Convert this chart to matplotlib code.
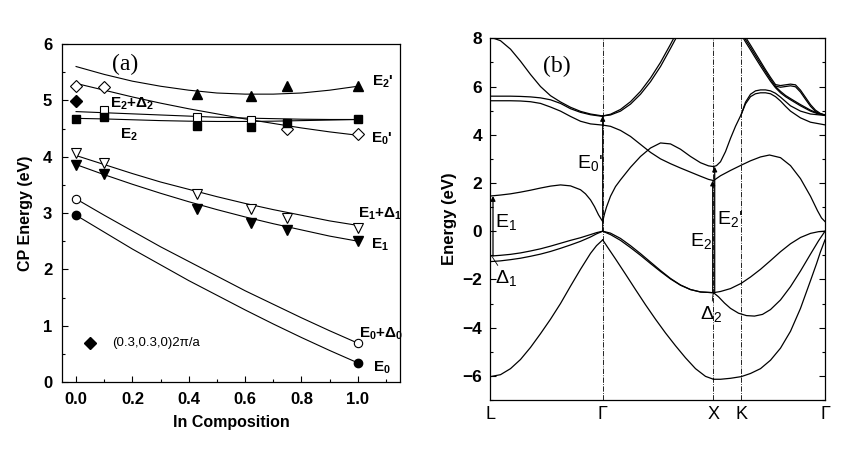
import numpy as np
import matplotlib
matplotlib.use('Agg')
import matplotlib.pyplot as plt
from matplotlib.ticker import MultipleLocator

plt.rcParams['font.family'] = ['Liberation Sans', 'DejaVu Sans']
plt.rcParams['mathtext.fontset'] = 'custom'
plt.rcParams['mathtext.rm'] = 'Liberation Sans'
plt.rcParams['mathtext.it'] = 'Liberation Sans:italic'
plt.rcParams['mathtext.bf'] = 'Liberation Sans:bold'

# ---------------- panel (a): critical point energies vs In composition
comp = [0.0, 0.1, 0.43, 0.62, 0.75, 1.0]
e2p_x = [0.43, 0.62, 0.75, 1.0]
e2p = [5.11, 5.07, 5.25, 5.25]
e0p_x = [0.0, 0.1, 0.75, 1.0]
e0p = [5.25, 5.23, 4.50, 4.41]
e2d_x = [0.1, 0.43, 0.62]
e2d = [4.83, 4.70, 4.65]
e2 = [4.67, 4.70, 4.54, 4.52, 4.59, 4.66]
e1d = [4.06, 3.88, 3.33, 3.07, 2.92, 2.74]
e1 = [3.86, 3.69, 3.07, 2.83, 2.70, 2.50]
e0_x = [0.0, 1.0]
e0d = [3.25, 0.69]
e0 = [2.96, 0.34]
pt_x = [0.0, 0.05]
pt_e = [4.98, 0.69]

# fitted curves read at steps of 0.1
fit_x = [0.0, 0.1, 0.2, 0.3, 0.4, 0.5, 0.6, 0.7, 0.8, 0.9, 1.0]
fit_e2p = [5.60, 5.46, 5.34, 5.25, 5.18, 5.13, 5.11, 5.11, 5.13, 5.18, 5.25]
fit_e0p = [5.30, 5.18, 5.06, 4.95, 4.85, 4.76, 4.67, 4.59, 4.51, 4.44, 4.38]
fit_e2d = [4.80, 4.78, 4.76, 4.74, 4.72, 4.70, 4.685, 4.675, 4.665, 4.66, 4.66]
fit_e2 = [4.68, 4.67, 4.655, 4.64, 4.63, 4.625, 4.625, 4.63, 4.64, 4.65, 4.66]
fit_e1d = [4.02, 3.86, 3.70, 3.55, 3.42, 3.29, 3.17, 3.06, 2.96, 2.86, 2.78]
fit_e1 = [3.86, 3.68, 3.51, 3.35, 3.20, 3.06, 2.93, 2.81, 2.70, 2.59, 2.50]
fit_e0d = [3.25, 2.96, 2.68, 2.40, 2.14, 1.88, 1.62, 1.38, 1.14, 0.91, 0.69]
fit_e0 = [2.96, 2.66, 2.36, 2.08, 1.80, 1.54, 1.28, 1.03, 0.79, 0.56, 0.34]

# ---------------- panel (b): band structure
kpt_pos = [0.0, 1.122, 2.23, 2.508, 3.345]
kpt_lab = ['L', 'Γ', 'X', 'K', 'Γ']

bands = [
    # L - Gamma
    ([0, 0.1, 0.2, 0.3, 0.4, 0.5, 0.6, 0.7, 0.8, 0.9, 1.0, 1.122],
     [8.05, 7.9, 7.55, 7.05, 6.5, 6.0, 5.62, 5.36, 5.14, 4.97, 4.86, 4.78]),
    ([0, 0.1, 0.2, 0.3, 0.4, 0.5, 0.6, 0.7, 0.8, 0.9, 1.0, 1.122],
     [5.60, 5.60, 5.60, 5.59, 5.57, 5.53, 5.45, 5.30, 5.08, 4.93, 4.83, 4.76]),
    ([0, 0.1, 0.2, 0.3, 0.4, 0.5, 0.6, 0.7, 0.8, 0.9, 1.0, 1.122],
     [5.41, 5.41, 5.41, 5.40, 5.37, 5.30, 5.15, 4.98, 4.76, 4.56, 4.45, 4.40]),
    ([0, 0.1, 0.2, 0.3, 0.4, 0.5, 0.6, 0.7, 0.8, 0.9, 0.95, 1.0, 1.04, 1.08, 1.122],
     [1.46, 1.50, 1.55, 1.62, 1.70, 1.79, 1.87, 1.92, 1.88, 1.72, 1.55, 1.30, 1.02, 0.68, 0.40]),
    ([0, 0.1, 0.2, 0.3, 0.4, 0.5, 0.6, 0.7, 0.8, 0.9, 1.0, 1.06, 1.122],
     [-1.03, -1.0, -0.96, -0.90, -0.82, -0.73, -0.62, -0.50, -0.38, -0.27, -0.14, -0.06, 0.0]),
    ([0, 0.1, 0.2, 0.3, 0.4, 0.5, 0.6, 0.7, 0.8, 0.9, 1.0, 1.06, 1.122],
     [-1.26, -1.23, -1.18, -1.12, -1.04, -0.95, -0.84, -0.71, -0.57, -0.42, -0.24, -0.11, 0.0]),
    ([0, 0.1, 0.2, 0.3, 0.4, 0.5, 0.6, 0.7, 0.8, 0.9, 1.0, 1.06, 1.122],
     [-6.03, -5.95, -5.70, -5.32, -4.82, -4.25, -3.65, -3.0, -2.28, -1.58, -0.92, -0.6, -0.36]),
    # Gamma - X
    ([1.122, 1.2, 1.3, 1.4, 1.5, 1.6, 1.7, 1.8, 1.87],
     [4.78, 4.85, 5.05, 5.37, 5.80, 6.35, 7.0, 7.75, 8.3]),
    ([1.122, 1.2, 1.3, 1.4, 1.5, 1.6, 1.7, 1.8, 1.88],
     [4.78, 4.82, 4.98, 5.27, 5.68, 6.20, 6.83, 7.58, 8.2]),
    ([1.122, 1.2, 1.3, 1.4, 1.5, 1.6, 1.7, 1.8, 1.9, 2.0, 2.1, 2.18, 2.23],
     [4.40, 4.35, 4.18, 3.93, 3.60, 3.27, 3.0, 2.80, 2.62, 2.45, 2.28, 2.15, 2.10]),
    ([1.122, 1.14, 1.16, 1.2, 1.25, 1.3, 1.4, 1.5, 1.6, 1.7, 1.8, 1.9, 2.0, 2.1, 2.18, 2.23],
     [0.40, 0.72, 1.0, 1.45, 1.85, 2.13, 2.65, 3.10, 3.45, 3.66, 3.62, 3.40, 3.10, 2.84, 2.71, 2.68]),
    ([1.122, 1.2, 1.3, 1.4, 1.5, 1.6, 1.7, 1.8, 1.9, 2.0, 2.1, 2.23],
     [0.0, -0.14, -0.38, -0.68, -1.0, -1.34, -1.67, -1.98, -2.24, -2.42, -2.52, -2.55]),
    ([1.122, 1.2, 1.3, 1.4, 1.5, 1.6, 1.7, 1.8, 1.9, 2.0, 2.1, 2.23],
     [0.0, -0.08, -0.30, -0.60, -0.93, -1.28, -1.63, -1.96, -2.23, -2.42, -2.52, -2.55]),
    ([1.122, 1.18, 1.25, 1.35, 1.45, 1.55, 1.65, 1.75, 1.85, 1.95, 2.05, 2.15, 2.23],
     [-0.36, -0.72, -1.15, -1.78, -2.42, -3.05, -3.65, -4.22, -4.75, -5.25, -5.70, -6.02, -6.14]),
    # X - K - Gamma
    ([2.23, 2.3, 2.4, 2.508, 2.6, 2.7, 2.8, 2.9, 3.0, 3.1, 3.2, 3.28, 3.345],
     [-2.55, -2.50, -2.38, -2.16, -1.90, -1.58, -1.22, -0.85, -0.52, -0.26, -0.09, -0.02, 0.0]),
    ([2.23, 2.28, 2.34, 2.4, 2.48, 2.56, 2.64, 2.72, 2.8, 2.9, 3.0, 3.1, 3.2, 3.28, 3.345],
     [-2.55, -2.72, -2.98, -3.20, -3.40, -3.50, -3.52, -3.45, -3.25, -2.85, -2.30, -1.65, -0.95, -0.40, 0.0]),
    ([2.23, 2.3, 2.4, 2.508, 2.6, 2.7, 2.8, 2.9, 3.0, 3.1, 3.2, 3.26, 3.3, 3.345],
     [-6.14, -6.14, -6.10, -6.03, -5.90, -5.70, -5.35, -4.85, -4.15, -3.2, -2.05, -1.35, -0.85, -0.36]),
    ([2.23, 2.3, 2.4, 2.508, 2.6, 2.7, 2.79, 2.9, 3.0, 3.1, 3.2, 3.27, 3.31, 3.345],
     [2.10, 2.30, 2.52, 2.74, 2.92, 3.08, 3.16, 3.05, 2.72, 2.18, 1.45, 0.85, 0.55, 0.40]),
    ([2.23, 2.26, 2.3, 2.35, 2.4, 2.45, 2.508, 2.55, 2.6, 2.65, 2.7, 2.75, 2.8, 2.85, 2.9, 2.95, 3.0, 3.1, 3.2, 3.345],
     [2.68, 2.72, 2.88, 3.3, 3.85, 4.35, 4.85, 5.35, 5.68, 5.82, 5.86, 5.86, 5.82, 5.72, 5.56, 5.38, 5.20, 4.98, 4.86, 4.80]),
    ([2.508, 2.55, 2.6, 2.65, 2.7, 2.75, 2.8, 2.85, 2.9, 2.95, 3.0, 3.1, 3.2, 3.345],
     [4.85, 5.28, 5.58, 5.70, 5.74, 5.74, 5.70, 5.58, 5.40, 5.18, 4.98, 4.70, 4.52, 4.41]),
    ([2.508, 2.55, 2.6, 2.65, 2.7, 2.75, 2.8, 2.85, 2.9, 2.95, 3.0, 3.1, 3.2, 3.28, 3.345],
     [8.25, 7.95, 7.62, 7.28, 6.95, 6.62, 6.30, 6.0, 5.80, 5.63, 5.50, 5.25, 5.02, 4.88, 4.82]),
    ([2.508, 2.55, 2.6, 2.65, 2.7, 2.75, 2.8, 2.85, 2.9, 2.95, 3.0, 3.1, 3.2, 3.28, 3.345],
     [8.15, 7.85, 7.52, 7.18, 6.85, 6.53, 6.22, 5.95, 5.74, 5.58, 5.45, 5.20, 4.98, 4.86, 4.82]),
    ([2.508, 2.55, 2.6, 2.65, 2.7, 2.75, 2.8, 2.85, 2.9, 2.95, 3.0, 3.05, 3.1, 3.15, 3.2, 3.25, 3.3, 3.345],
     [8.35, 8.05, 7.72, 7.38, 7.04, 6.70, 6.38, 6.08, 6.04, 6.07, 6.10, 6.07, 5.85, 5.55, 5.25, 5.02, 4.88, 4.82]),
    ([2.85, 2.9, 2.95, 3.0, 3.05, 3.1, 3.15, 3.2, 3.25, 3.3, 3.345],
     [6.02, 5.97, 6.00, 6.03, 5.99, 5.77, 5.47, 5.18, 4.97, 4.86, 4.82]),
]

# optical transitions: k, lower energy, upper energy
trans_k = [0.025, 1.122, 2.222, 2.242]
trans_lo = [-1.03, 0.0, -2.55, -2.55]
trans_hi = [1.46, 4.78, 2.10, 2.68]


def main():
    fig = plt.figure(figsize=(8.52, 4.51), dpi=100)

    # ---------- (a)
    ax = fig.add_axes([62 / 852, 1 - 382 / 451, 338 / 852, 338 / 451])
    lw = 0.8
    for fy in [fit_e2p, fit_e0p, fit_e2d, fit_e2, fit_e1d, fit_e1, fit_e0d, fit_e0]:
        ax.plot(fit_x, fy, color='k', lw=lw)
    ax.plot(e2p_x, e2p, '^', color='k', ms=7)
    ax.plot(e0p_x, e0p, 'D', mfc='white', mec='k', mew=0.8, ms=6.5)
    ax.plot(e2d_x, e2d, 's', mfc='white', mec='k', mew=0.8, ms=6)
    ax.plot(comp, e2, 's', color='k', ms=6)
    ax.plot(comp, e1d, 'v', mfc='white', mec='k', mew=0.8, ms=7)
    ax.plot(comp, e1, 'v', color='k', ms=7)
    ax.plot(e0_x, e0d, 'o', mfc='white', mec='k', mew=0.8, ms=6)
    ax.plot(e0_x, e0, 'o', color='k', ms=6)
    ax.plot(pt_x, pt_e, 'D', color='k', ms=6)

    ax.set_xlim(-0.05, 1.15)
    ax.set_ylim(0, 6)
    ax.xaxis.set_major_locator(MultipleLocator(0.2))
    ax.xaxis.set_minor_locator(MultipleLocator(0.1))
    ax.yaxis.set_major_locator(MultipleLocator(1))
    ax.yaxis.set_minor_locator(MultipleLocator(0.5))
    ax.set_xticks([0, 0.2, 0.4, 0.6, 0.8, 1.0])
    ax.set_xticklabels(['0.0', '0.2', '0.4', '0.6', '0.8', '1.0'])
    ax.tick_params(which='both', direction='in', top=False, right=False, width=0.8)
    ax.tick_params(which='major', length=4, labelsize=12, pad=7)
    ax.tick_params(which='minor', length=2.5)
    for lab in ax.get_xticklabels() + ax.get_yticklabels():
        lab.set_fontweight('bold')
    for s in ax.spines.values():
        s.set_linewidth(0.9)
    ax.set_xlabel('In Composition', fontsize=11.5, fontweight='bold', labelpad=6)
    ax.set_ylabel('CP Energy (eV)', fontsize=11.5, fontweight='bold', labelpad=7)

    ax.text(0.174, 5.63, '(a)', family='Liberation Serif', fontsize=17, ha='center', va='center')
    kw = dict(fontsize=11, fontweight='bold', ha='left', va='center')
    ax.text(1.05, 5.33, r"$\mathbf{E_2}$'", **kw)
    ax.text(0.12, 4.94, r"$\mathbf{E_2}$+$\mathbf{\Delta_2}$", **kw)
    ax.text(0.156, 4.38, r"$\mathbf{E_2}$", **kw)
    ax.text(1.046, 4.32, r"$\mathbf{E_0}$'", **kw)
    ax.text(1.0, 2.98, r"$\mathbf{E_1}$+$\mathbf{\Delta_1}$", **kw)
    ax.text(1.046, 2.43, r"$\mathbf{E_1}$", **kw)
    ax.text(1.004, 0.86, r"$\mathbf{E_0}$+$\mathbf{\Delta_0}$", **kw)
    ax.text(1.053, 0.26, r"$\mathbf{E_0}$", **kw)
    ax.text(0.128, 0.69, '(0.3,0.3,0)2π/a', fontsize=9.5, ha='left', va='center')

    # ---------- (b)
    bx = fig.add_axes([490.5 / 852, 1 - 400 / 451, 334.5 / 852, 361.7 / 451])
    for kk, ee in bands:
        bx.plot(kk, ee, color='k', lw=0.9)
    for kp in kpt_pos[1:4]:
        bx.axvline(kp, color='k', lw=0.6, ls='-.')
    for kk, lo, hi in zip(trans_k, trans_lo, trans_hi):
        bx.annotate('', xy=(kk, hi), xytext=(kk, lo),
                    arrowprops=dict(arrowstyle='-|>', color='k', lw=0.9,
                                    mutation_scale=7, shrinkA=0, shrinkB=0))
    bx.set_xlim(kpt_pos[0], kpt_pos[-1])
    bx.set_ylim(-7, 8)
    bx.set_xticks(kpt_pos)
    bx.set_xticklabels(kpt_lab)
    bx.yaxis.set_major_locator(MultipleLocator(2))
    bx.yaxis.set_minor_locator(MultipleLocator(1))
    bx.tick_params(axis='x', length=0, labelsize=13, pad=4)
    bx.tick_params(axis='y', which='both', direction='in', right=True, width=0.8)
    bx.tick_params(axis='y', which='major', length=4, labelsize=12.5, pad=6)
    bx.tick_params(axis='y', which='minor', length=2.5)
    for lab in bx.get_yticklabels():
        lab.set_fontweight('bold')
    for s in bx.spines.values():
        s.set_linewidth(0.9)
    bx.set_ylabel('Energy (eV)', fontsize=12, fontweight='bold', labelpad=4)

    bx.text(0.662, 6.83, '(b)', family='Liberation Serif', fontsize=17, ha='center', va='center')
    kw = dict(fontsize=14, ha='left', va='center')
    bx.text(0.862, 2.83, r"E$_0$'", **kw)
    bx.text(0.045, 0.40, r"E$_1$", **kw)
    bx.text(1.995, -0.40, r"E$_2$", **kw)
    bx.text(2.262, 0.51, r"E$_2$'", **kw)
    bx.annotate(r"$\Delta_1$", xy=(0.02, -1.08), xytext=(0.045, -1.95), fontsize=14,
                ha='left', va='center',
                arrowprops=dict(arrowstyle='-', color='k', lw=0.6, shrinkA=0, shrinkB=0))
    bx.annotate(r"$\Delta_2$", xy=(2.225, -2.6), xytext=(2.095, -3.43), fontsize=14,
                ha='left', va='center',
                arrowprops=dict(arrowstyle='-', color='k', lw=0.6, shrinkA=0, shrinkB=0))

    fig.savefig('out.png', dpi=100)


if __name__ == "__main__":
    main()
